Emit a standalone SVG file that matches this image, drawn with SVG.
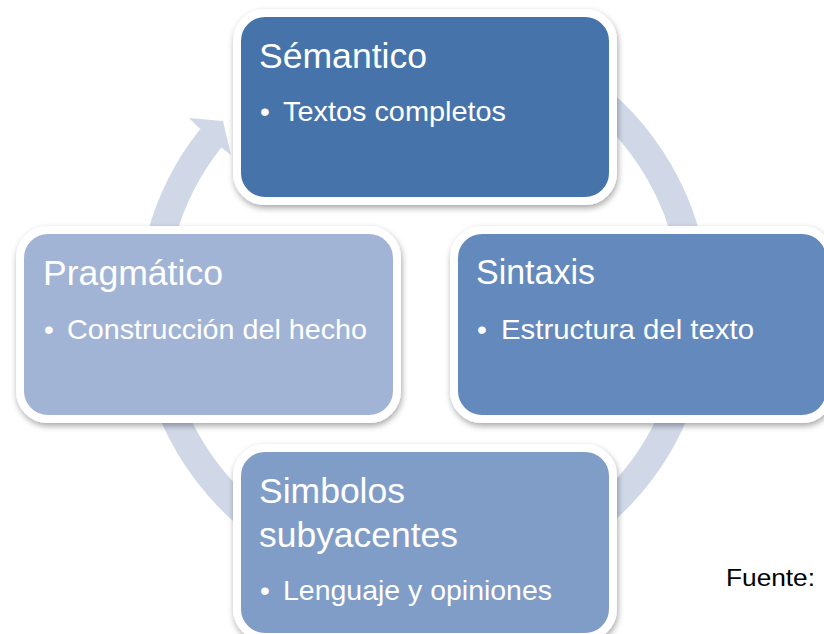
<svg xmlns="http://www.w3.org/2000/svg" width="824" height="634" viewBox="0 0 824 634">
  <defs>
    <filter id="sh" x="-10%" y="-10%" width="120%" height="125%">
      <feDropShadow dx="1" dy="3" stdDeviation="3" flood-color="#000" flood-opacity="0.35"/>
    </filter>
  </defs>
  <style>
    .box { stroke: #fff; stroke-width: 8; filter: url(#sh); }
    .t { font-family: "Liberation Sans", Arial, sans-serif; fill: #fff; }
    .title { font-size: 35px; }
    .bul { font-size: 28px; }
    .ring { fill: none; stroke: #D0D8E8; stroke-width: 28; }
  </style>
  <rect width="824" height="634" fill="#fff"/>
  <g id="connectors">
    <path class="ring" d="M 472.2 40.1 A 272 272 0 1 1 211 138"/>
    <polygon points="189,118 223,121 231,155 210,139" fill="#D0D8E8"/>
  </g>
  <g id="node-semantico">
    <rect class="box" x="237" y="13" width="376" height="188" rx="28" fill="#4773AB"/>
    <text class="t title" x="259" y="68" textLength="168" lengthAdjust="spacingAndGlyphs">Sémantico</text>
    <text class="t bul" x="260" y="121">•</text>
    <text class="t bul" x="283" y="121" textLength="223" lengthAdjust="spacingAndGlyphs">Textos completos</text>
  </g>
  <g id="node-sintaxis">
    <rect class="box" x="454" y="230" width="376" height="189" rx="28" fill="#6389BD"/>
    <text class="t title" x="476" y="284" textLength="119" lengthAdjust="spacingAndGlyphs">Sintaxis</text>
    <text class="t bul" x="477" y="339">•</text>
    <text class="t bul" x="501" y="339" textLength="253" lengthAdjust="spacingAndGlyphs">Estructura del texto</text>
  </g>
  <g id="node-pragmatico">
    <rect class="box" x="20" y="230" width="377" height="189" rx="28" fill="#A2B4D5"/>
    <text class="t title" x="43" y="285" textLength="180" lengthAdjust="spacingAndGlyphs">Pragmático</text>
    <text class="t bul" x="44" y="339">•</text>
    <text class="t bul" x="67" y="339" textLength="300" lengthAdjust="spacingAndGlyphs">Construcción del hecho</text>
  </g>
  <g id="node-simbolos">
    <rect class="box" x="237" y="448" width="376" height="189" rx="28" fill="#809DC8"/>
    <text class="t title" x="259" y="503" textLength="146" lengthAdjust="spacingAndGlyphs">Simbolos</text>
    <text class="t title" x="259" y="547" textLength="199" lengthAdjust="spacingAndGlyphs">subyacentes</text>
    <text class="t bul" x="260" y="600">•</text>
    <text class="t bul" x="283" y="600" textLength="269" lengthAdjust="spacingAndGlyphs">Lenguaje y opiniones</text>
  </g>
  <text x="726" y="586" font-family="Liberation Sans, Arial, sans-serif" font-size="24" fill="#000" textLength="89" lengthAdjust="spacingAndGlyphs">Fuente:</text>
</svg>
